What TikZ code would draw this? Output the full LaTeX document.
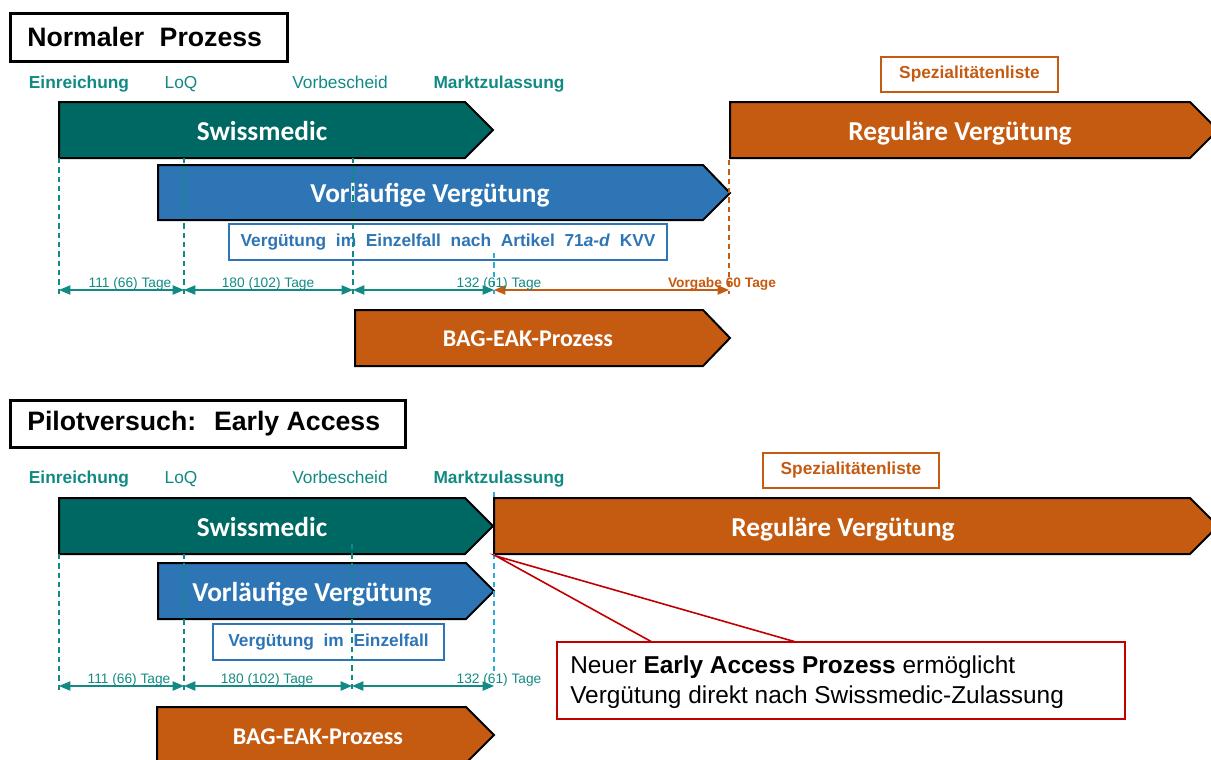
\documentclass[tikz,border=0pt]{standalone}
\usepackage{fontspec}
\setmainfont{Liberation Sans}
\newfontfamily\calibrifont{Carlito}
\usetikzlibrary{arrows.meta}
\definecolor{tealdark}{RGB}{0,104,98}
\definecolor{tealtext}{RGB}{18,138,132}
\definecolor{bluefill}{RGB}{46,117,182}
\definecolor{orangefill}{RGB}{197,90,17}
\definecolor{skyline}{RGB}{45,170,220}
\definecolor{redline}{RGB}{192,0,0}
\newcommand{\wgap}{\hspace{0.56em}}
\tikzset{
	phase/.style={line width=1.5pt,draw=black,line join=miter},
	phasetext/.style={anchor=base,text=white,inner sep=0pt,font=\calibrifont\bfseries\fontsize{20.5}{24}\selectfont},
	titletext/.style={anchor=west,inner sep=0pt,font=\bfseries\fontsize{20}{24}\selectfont},
	milestone/.style={anchor=base,text=tealtext,inner sep=0pt,font=\fontsize{13}{15}\selectfont},
	slbox/.style={line width=1.5pt,draw=orangefill,fill=white},
	sltext/.style={text=orangefill,inner sep=0pt,font=\bfseries\fontsize{13}{15}\selectfont},
	efbox/.style={line width=2pt,draw=bluefill,fill=white},
	eftext/.style={text=bluefill,inner sep=0pt,font=\bfseries\fontsize{13}{15}\selectfont},
	tick/.style={line width=1.2pt,dash pattern=on 4pt off 3pt},
	dimline/.style={line width=0.8pt,arrows={Triangle[length=8.5pt,width=7pt]-Triangle[length=8.5pt,width=7pt]}},
	dimlabel/.style={anchor=base,text=tealtext,inner sep=0pt,font=\fontsize{10.3}{12}\selectfont}
}
\begin{document}
\begin{tikzpicture}[line cap=butt,line join=miter,x=0.75pt,y=-0.75pt]
	\useasboundingbox (0,0) rectangle (1211,760);
	\clip (0,0) rectangle (1211,760);
	% Normaler Prozess
	\draw [line width=2.25pt] (10,13) rectangle (287,61);
	\node [titletext] (titleA) at (27,37) {Normaler\hspace{6pt} Prozess};

	\node [milestone,font=\bfseries\fontsize{13}{15}\selectfont] (einA) at (79,88) {Einreichung};
	\node [milestone] (loqA) at (181,88) {LoQ};
	\node [milestone] (vorbA) at (340,88) {Vorbescheid};
	\node [milestone,font=\bfseries\fontsize{13}{15}\selectfont] (marktA) at (499,88) {Marktzulassung};

	\draw [slbox] (881,57) rectangle (1058,92);
	\node [sltext] (slA) at (969.5,74.5) {Spezialitätenliste};

	% Balken
	\draw [phase,fill=tealdark] (59,102) -- (465,102) -- (493,130) -- (465,158) -- (59,158) -- cycle;
	\node [phasetext] (swissA) at (262,140) {Swissmedic};
	\draw [phase,fill=orangefill] (730,102) -- (1190,102) -- (1218,130) -- (1190,158) -- (730,158) -- cycle;
	\node [phasetext] (regA) at (960,140) {Reguläre Vergütung};
	\draw [phase,fill=bluefill] (158,165) -- (703,165) -- (730,193) -- (703,220) -- (158,220) -- cycle;
	\node [phasetext] (vorlA) at (430,202) {Vorläufige Vergütung};
	\draw [phase,fill=orangefill] (355,310) -- (703,310) -- (730,338) -- (703,366) -- (355,366) -- cycle;
	\node [phasetext,font=\calibrifont\bfseries\fontsize{18}{22}\selectfont] (bagA) at (528,346) {BAG-EAK-Prozess};

	\draw [efbox] (229,224) rectangle (667,260);
	\node [eftext] (efA) at (448,242) {Vergütung\wgap im\wgap Einzelfall\wgap nach\wgap Artikel\wgap 71\textit{a-d}\wgap KVV};

	% Zeitachse
	\coordinate (tA0) at (59,290);
	\coordinate (tA1) at (184,290);
	\coordinate (tA2) at (353,290);
	\coordinate (tA3) at (494,290);
	\coordinate (tA4) at (729,290);
	\draw [tick,draw=tealtext] (59,158) -- (59,294);
	\draw [tick,draw=tealtext] (184,158) -- (184,294);
	\draw [tick,draw=tealtext] (353,158) -- (353,294);
	\draw [tick,draw=skyline] (494,253) -- (494,294);
	\draw [tick,draw=orangefill] (729,160) -- (729,294);
	\draw [dimline,draw=tealtext,fill=tealtext] (tA0) -- (tA1);
	\draw [dimline,draw=tealtext,fill=tealtext] (tA1) -- (tA2);
	\draw [dimline,draw=tealtext,fill=tealtext] (tA2) -- (tA3);
	\draw [dimline,draw=orangefill,fill=orangefill] (tA3) -- (tA4);
	\node [dimlabel] (dA1) at (130,287) {111 (66) Tage};
	\node [dimlabel] (dA2) at (268,287) {180 (102) Tage};
	\node [dimlabel] (dA3) at (499,287) {132 (61) Tage};
	\node [dimlabel,text=orangefill,font=\bfseries\fontsize{10.3}{12}\selectfont] (dA4) at (722,287) {Vorgabe 60 Tage};

	% Pilotversuch: Early Access
	\draw [line width=2.25pt] (10,400) rectangle (405,447);
	\node [titletext] (titleB) at (27,424) {Pilotversuch:\hspace{6pt} Early Access};

	\node [milestone,font=\bfseries\fontsize{13}{15}\selectfont] (einB) at (79,483) {Einreichung};
	\node [milestone] (loqB) at (181,483) {LoQ};
	\node [milestone] (vorbB) at (340,483) {Vorbescheid};
	\node [milestone,font=\bfseries\fontsize{13}{15}\selectfont] (marktB) at (499,483) {Marktzulassung};

	\draw [slbox] (763,453) rectangle (939,488);
	\node [sltext] (slB) at (851,470.5) {Spezialitätenliste};

	\draw [tick,draw=skyline] (494,492) -- (494,500);

	% Balken
	\draw [phase,fill=tealdark] (59,498) -- (465,498) -- (493,526) -- (465,554) -- (59,554) -- cycle;
	\node [phasetext] (swissB) at (262,536) {Swissmedic};
	\draw [phase,fill=orangefill] (494,498) -- (1190,498) -- (1218,526) -- (1190,554) -- (494,554) -- cycle;
	\node [phasetext] (regB) at (843,536) {Reguläre Vergütung};
	\draw [phase,fill=bluefill] (158,563) -- (466,563) -- (494,591) -- (466,619) -- (158,619) -- cycle;
	\node [phasetext] (vorlB) at (312,601) {Vorläufige Vergütung};
	\draw [phase,fill=orangefill] (157,707) -- (466,707) -- (494,735) -- (466,763) -- (157,763) -- cycle;
	\node [phasetext,font=\calibrifont\bfseries\fontsize{18}{22}\selectfont] (bagB) at (318,744) {BAG-EAK-Prozess};

	\draw [efbox] (213,624) rectangle (444,660);
	\node [eftext] (efB) at (328.5,642) {Vergütung\wgap im\wgap Einzelfall};

	% Zeitachse
	\coordinate (tB0) at (59,686);
	\coordinate (tB1) at (184,686);
	\coordinate (tB2) at (352,686);
	\coordinate (tB3) at (494,686);
	\draw [tick,draw=tealtext] (59,554) -- (59,690);
	\draw [tick,draw=tealtext] (184,554) -- (184,690);
	\draw [tick,draw=tealtext] (352,544) -- (352,690);
	\draw [tick,draw=skyline] (494,554) -- (494,672);
	\draw [dimline,draw=tealtext,fill=tealtext] (tB0) -- (tB1);
	\draw [dimline,draw=tealtext,fill=tealtext] (tB1) -- (tB2);
	\draw [dimline,draw=tealtext,fill=tealtext] (tB2) -- (tB3);
	\node [dimlabel] (dB1) at (129,683) {111 (66) Tage};
	\node [dimlabel] (dB2) at (267,683) {180 (102) Tage};
	\node [dimlabel] (dB3) at (499,683) {132 (61) Tage};

	% Hinweis
	\coordinate (pin) at (496,556);
	\draw [line width=1.2pt,draw=redline,fill=white] (557,642) rectangle (1125,719);
	\draw [line width=1.2pt,draw=redline] (652,642) -- (pin) -- (796,642);
	\node [anchor=west,inner sep=0pt,align=left,font=\fontsize{18.3}{22.5}\selectfont] (note) at (570,682) {Neuer \textbf{Early Access Prozess} ermöglicht\\Vergütung direkt nach Swissmedic-Zulassung};

\end{tikzpicture}
\end{document}
